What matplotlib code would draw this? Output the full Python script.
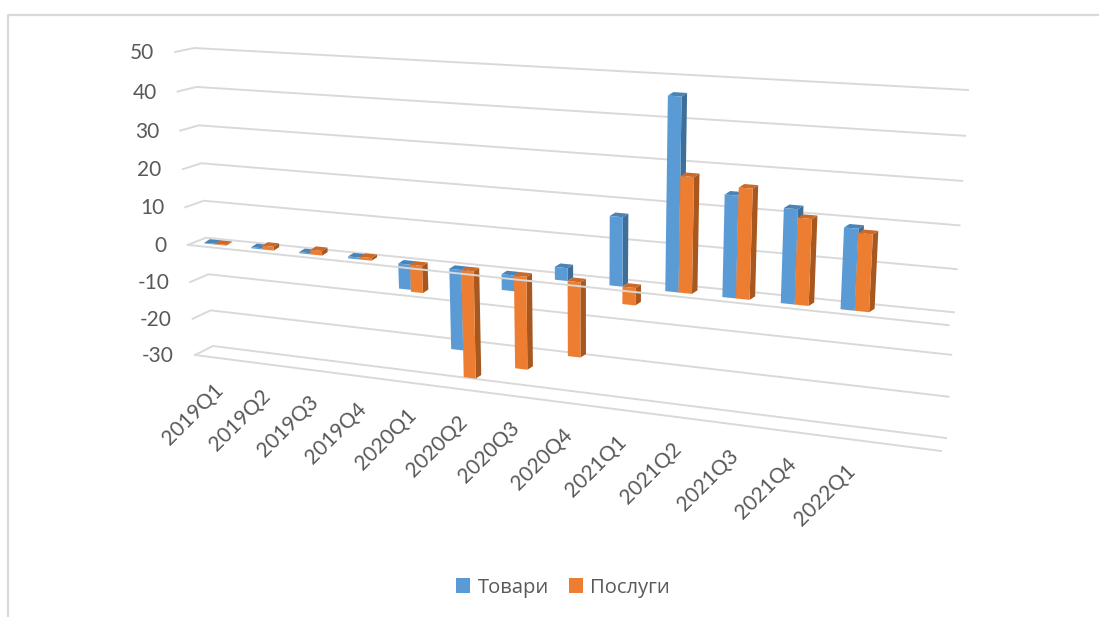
import numpy as np
import matplotlib
matplotlib.use("Agg")
import matplotlib.pyplot as plt
from matplotlib.patches import Polygon, Patch

categories = ["2019Q1", "2019Q2", "2019Q3", "2019Q4", "2020Q1", "2020Q2", "2020Q3",
              "2020Q4", "2021Q1", "2021Q2", "2021Q3", "2021Q4", "2022Q1"]
tovary = [0.2, 0.3, 0.3, 0.5, -6.5, -20.8, -4.0, 3.2, 17, 46.5, 24.5, 22.5, 19.2]
poslugy = [0.2, 1.0, 1.2, 0.7, -7, -27.8, -23.8, -19, -4.3, 28, 26.4, 20.5, 18.2]
series_names = ["Товари", "Послуги"]
ticks = [50, 40, 30, 20, 10, 0, -10, -20, -30]

BLUE, BLUE_SIDE, BLUE_TOP = "#5B9BD5", "#3F6E98", "#4A83B6"
ORANGE, ORANGE_SIDE, ORANGE_TOP = "#ED7D31", "#A8581F", "#C9692A"
GRID = "#D9D9D9"
TXT = "#595959"
N_SLOTS = 14
BAR_DEPTH = 0.65
SIDE = (5.5, -3.5)


def homography(corners):
    src = [(0, 50), (1, 50), (0, -30), (1, -30)]
    A, b = [], []
    for (u, v), (x, y) in zip(src, corners):
        A.append([u, v, 1, 0, 0, 0, -u * x, -v * x]); b.append(x)
        A.append([0, 0, 0, u, v, 1, -u * y, -v * y]); b.append(y)
    return np.append(np.linalg.solve(np.array(A, float), np.array(b, float)), 1).reshape(3, 3)


H_BACK = homography([(194, 48), (968, 90), (213, 346), (946, 438)])
H_FRONT = homography([(175, 52), (962, 103), (195, 355), (941, 451)])


def apply(H, u, v):
    p = H @ np.array([u, v, 1.0])
    return p[:2] / p[2]


def proj(u, v, d=0.0):
    return (1 - d) * apply(H_BACK, u, v) + d * apply(H_FRONT, u, v)


fig = plt.figure(figsize=(10.99, 6.17), dpi=100)
ax = fig.add_axes([0, 0, 1, 1])
ax.set_xlim(0, 1099)
ax.set_ylim(617, 0)
ax.axis("off")
plt.rcParams["font.family"] = ["Open Sans", "DejaVu Sans"]

ax.plot([7.5, 7.5, 1099], [617, 14.5, 14.5], color=GRID, lw=1.6, zorder=1)

for t in ticks:
    a, b, c = proj(0, t, 1), proj(0, t, 0), proj(1, t, 0)
    ax.plot([a[0], b[0], c[0]], [a[1], b[1], c[1]], color=GRID, lw=1.4, zorder=2,
            solid_joinstyle="round")
    ax.text(a[0] - 21, a[1] + 1, str(t), ha="right", va="center", fontsize=15, color=TXT,
            family="Lato")

p, q = proj(0, -30, 1), proj(1, -30, 1)
ax.plot([p[0], q[0]], [p[1], q[1]], color=GRID, lw=1.4, zorder=2)


def draw_bar(u0, u1, val, face, side, top, z):
    hi, lo = max(val, 0), min(val, 0)
    a, b = proj(u0, hi, BAR_DEPTH), proj(u1, hi, BAR_DEPTH)
    c, e = proj(u1, lo, BAR_DEPTH), proj(u0, lo, BAR_DEPTH)
    s = np.array(SIDE)
    ax.add_patch(Polygon([b, b + s, c + s, c], closed=True, fc=side, ec="none", zorder=z))
    ax.add_patch(Polygon([a, a + s, b + s, b], closed=True, fc=top, ec="none", zorder=z))
    ax.add_patch(Polygon([a, b, c, e], closed=True, fc=face, ec="none", zorder=z))


for i in range(len(categories)):
    u = lambda f: (i + f) / N_SLOTS
    draw_bar(u(0.22), u(0.455), tovary[i], BLUE, BLUE_SIDE, BLUE_TOP, 3 + i * 0.01)
    draw_bar(u(0.455), u(0.69), poslugy[i], ORANGE, ORANGE_SIDE, ORANGE_TOP, 3.005 + i * 0.01)

p, q = proj(0, 0, 1), proj(1, 0, 1)
ax.plot([p[0], q[0]], [p[1], q[1]], color=GRID, lw=1.4, zorder=5)

for i, cat in enumerate(categories):
    x, y = proj((i + 0.5) / N_SLOTS, -30, 1)
    ax.text(x - 5, y + 22, cat, rotation=45, rotation_mode="anchor", ha="right", va="top",
            fontsize=15, color=TXT, family="Lato")

ax.legend(handles=[Patch(fc=BLUE, label=series_names[0]), Patch(fc=ORANGE, label=series_names[1])],
          loc="center", bbox_to_anchor=(563, 587.5), bbox_transform=ax.transData, frameon=False,
          ncol=2, fontsize=14.5, labelcolor=TXT, handlelength=0.72, handleheight=0.78,
          handletextpad=0.35, columnspacing=1.0, borderpad=0)

fig.savefig("out.png", dpi=100)
